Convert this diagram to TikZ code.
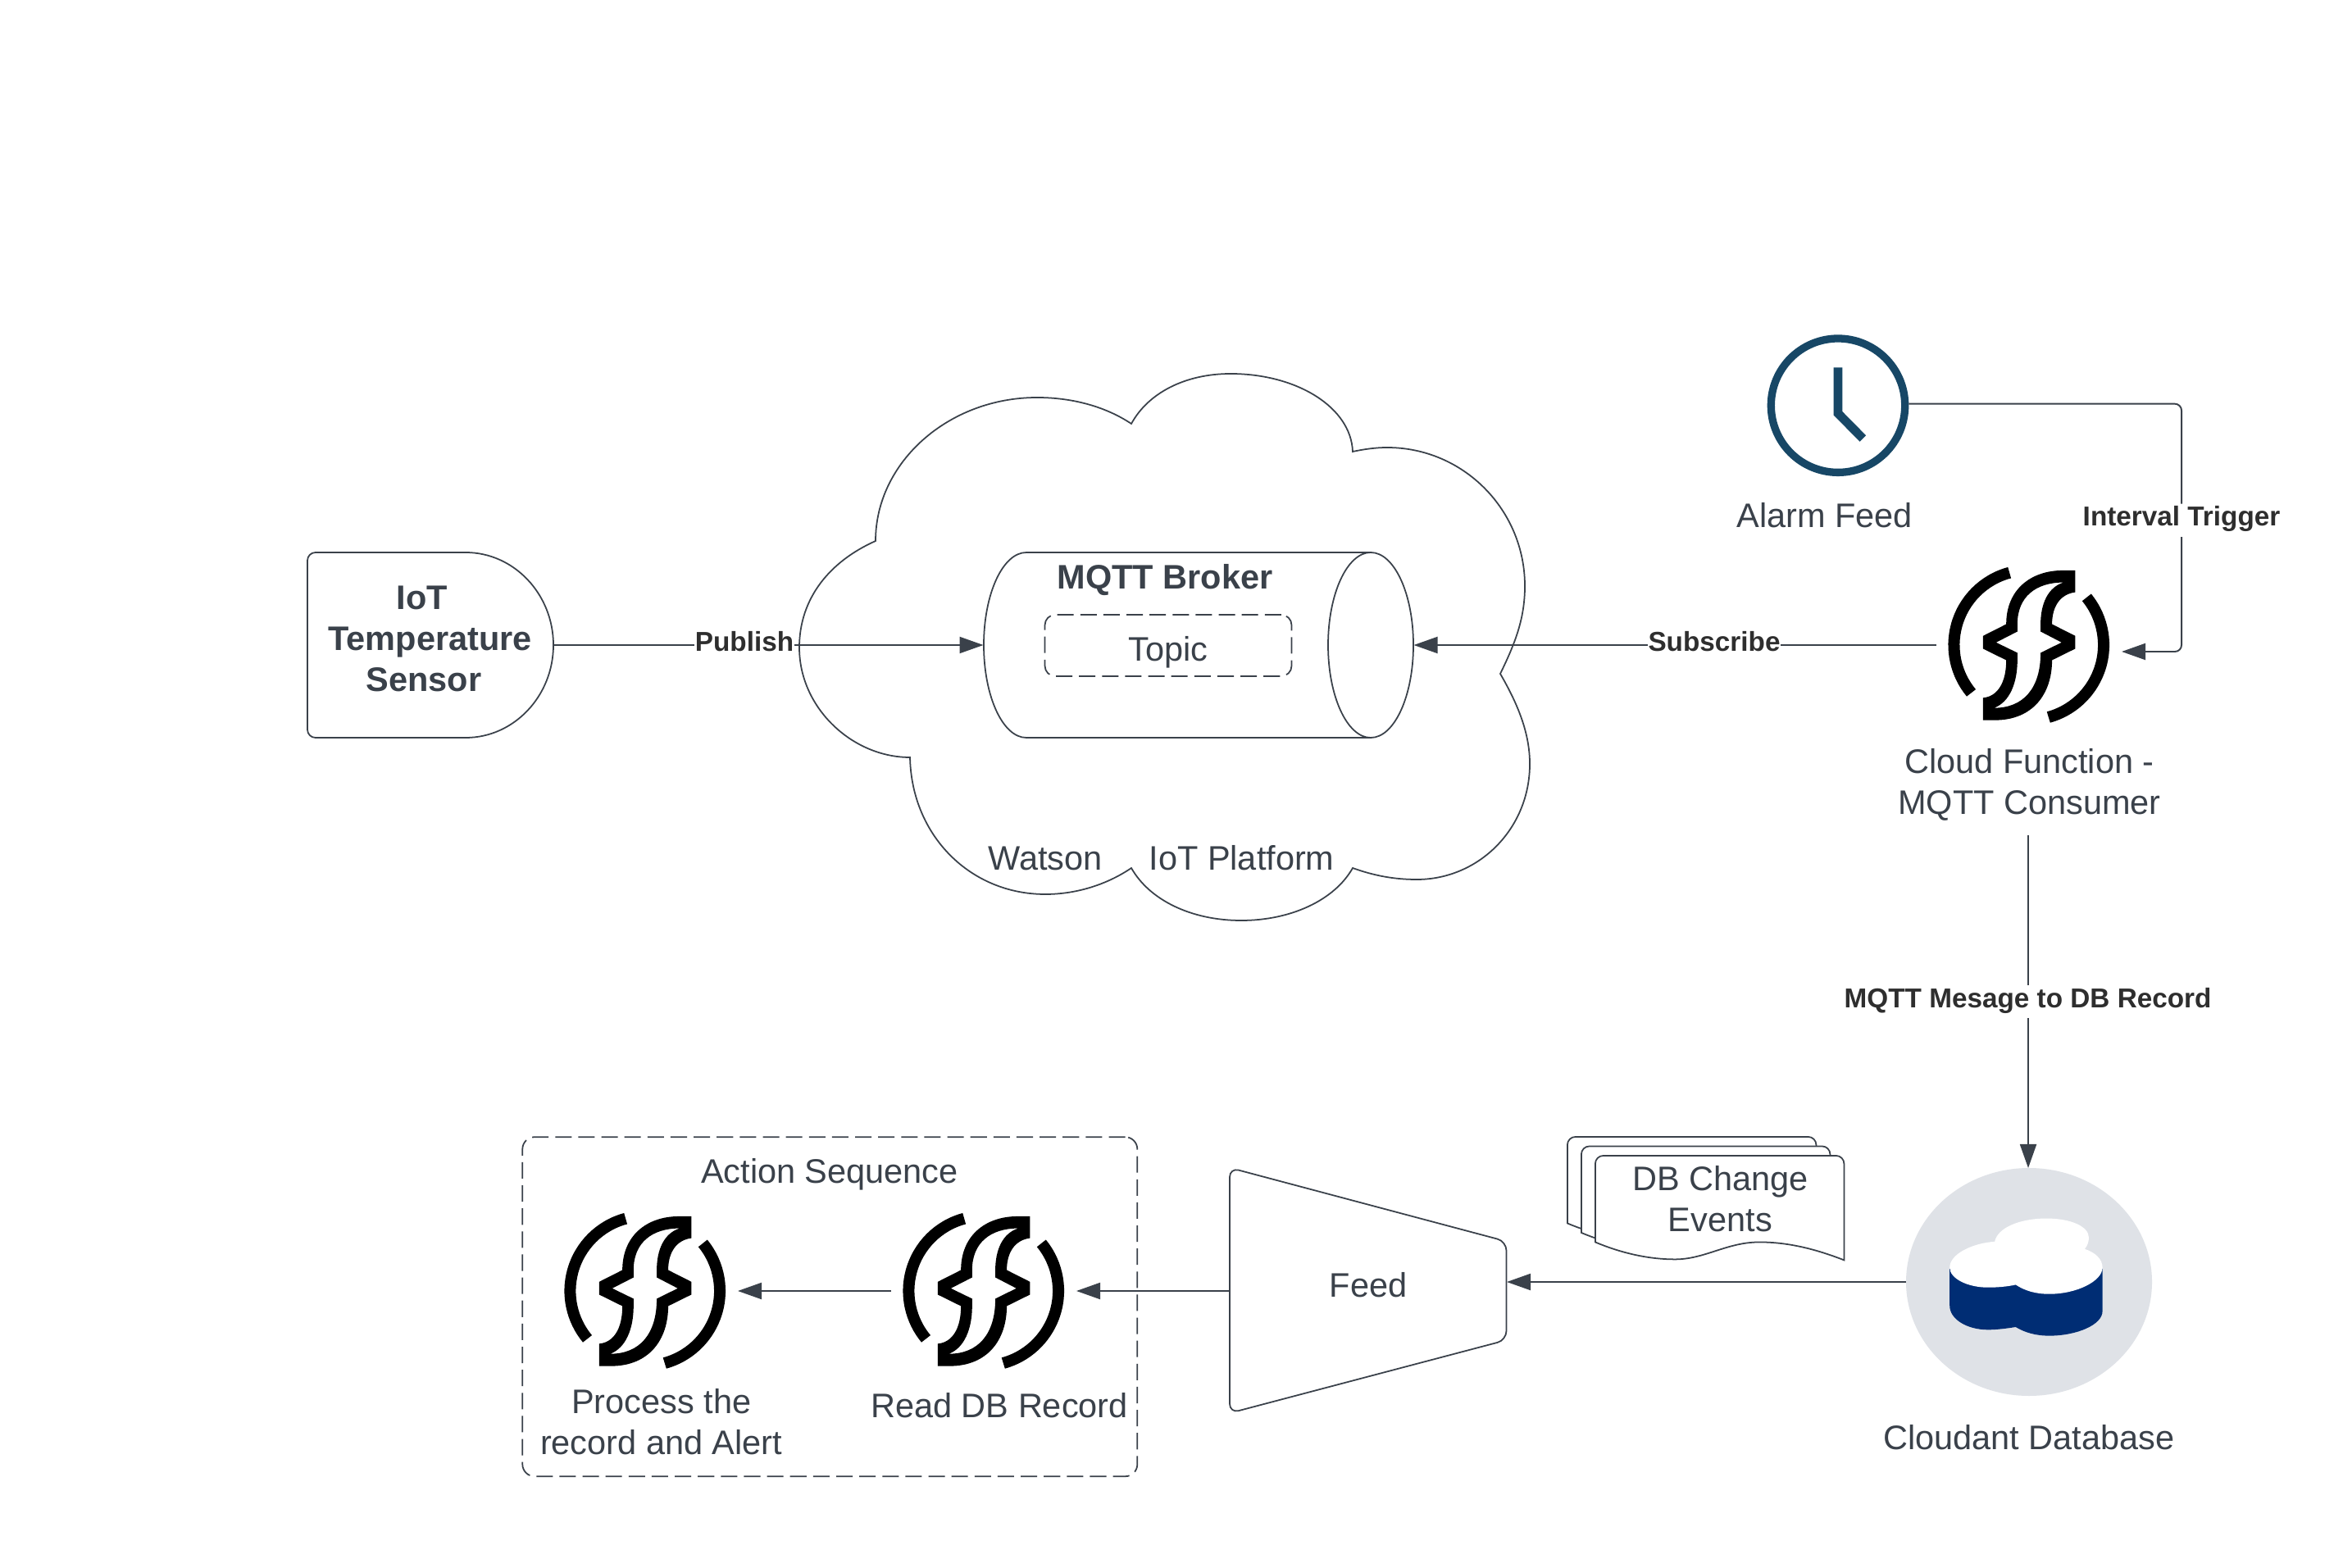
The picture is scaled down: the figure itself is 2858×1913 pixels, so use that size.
\documentclass[tikz,border=0pt]{standalone}
\usepackage{fontspec}
\setmainfont{Liberation Sans}
\usetikzlibrary{arrows.meta,calc,shapes.geometric}
\definecolor{ink}{HTML}{3A414A}
\definecolor{lblink}{HTML}{2E2E2E}
\definecolor{clockblue}{HTML}{174766}
\definecolor{dbgrey}{HTML}{DFE2E7}
\definecolor{dbnavy}{HTML}{002D74}
\newdimen\pxu \pxu=0.01cm
\tikzset{
  txt/.style={font=\fontsize{11.8}{14.22}\selectfont,text=ink,inner sep=0pt,align=center},
  boldtxt/.style={txt,font=\fontsize{11.8}{14.22}\selectfont\bfseries},
  edgelabel/.style={font=\fontsize{9.47}{11.5}\selectfont\bfseries,text=lblink,fill=white,inner xsep=0pt,inner ysep=0pt,text height=7.6pt,text depth=3.5pt,anchor=base},
  shapeline/.style={draw=ink,line width=0.5pt,fill=white},
  conn/.style={draw=ink,line width=0.55pt,-{Triangle[length=8.25pt,width=5.7pt]},fill=none},
  plainconn/.style={draw=ink,line width=0.55pt},
  dashbox/.style={draw=ink,line width=0.5pt,dash pattern=on 5.7pt off 2.3pt,rounded corners=3.6pt},
  anchorbox/.style={inner sep=0pt,outer sep=0pt},
}
\newcommand{\fnicon}[2]{%
  \begin{scope}[shift={(#1-135,#2-127)},x=0.0033333cm,y=-0.0033333cm]
    \draw[black,line width=14\pxu] (334,116.3) arc[start angle=105,end angle=219.7,radius=0.9133cm];
    \draw[black,line width=14\pxu] (616.8,207) arc[start angle=39.4,end angle=-74.7,radius=0.9133cm];
    \fill[black,even odd rule]
      (575,108) -- (575,188) .. controls (520,195) and (490,240) .. (490,305)
      -- (575,348) -- (575,395) -- (490,437)
      .. controls (490,560) and (420,657) .. (280,657) -- (237,657) -- (237,575)
      .. controls (290,570) and (322,520) .. (322,437)
      -- (237,395) -- (237,348) -- (322,305)
      .. controls (322,180) and (410,108) .. (530,108) -- (575,108) -- cycle
      (532,152) .. controls (475,170) and (448,230) .. (448,305)
      -- (448,332) -- (525,372) -- (448,410)
      .. controls (448,540) and (385,612) .. (278,612)
      .. controls (335,590) and (363,520) .. (363,437)
      -- (363,410) -- (285,372) -- (363,332) -- (363,305)
      .. controls (363,205) and (430,152) .. (532,152) -- cycle;
  \end{scope}}
\newcommand{\docsheet}[2]{%
  \begin{scope}[shift={(#1,#2)},x=0.0033333cm,y=-0.0033333cm]
    \path[draw=ink,line width=0.5pt,fill=white]
      (198,437) [rounded corners=2.8pt] -- (198,120) -- (1110,120) [sharp corners] -- (1110,503)
      .. controls (1000,460) and (900,437) .. (800,437)
      .. controls (680,437) and (600,500) .. (490,500)
      .. controls (400,500) and (300,480) .. (198,437) -- cycle;
  \end{scope}}
\begin{document}
\begin{tikzpicture}[x=0.01cm,y=-0.01cm]
\useasboundingbox (0,0) rectangle (2858,1913);
\fill[white] (0,0) rectangle (2858,1913);

% cloud
\path[shapeline]
  (1068,660) .. controls (1068,564) and (1157,485) .. (1265,485)
  .. controls (1310,485) and (1350,497) .. (1380,517)
  .. controls (1400,480) and (1445,456) .. (1501,456)
  .. controls (1582,456) and (1648,497) .. (1650,551)
  .. controls (1664,548) and (1678,546) .. (1692,546)
  .. controls (1785,546) and (1860,622) .. (1860,715)
  .. controls (1860,755) and (1848,785) .. (1830,822)
  .. controls (1852,860) and (1866,895) .. (1866,932)
  .. controls (1866,1011) and (1804,1073) .. (1728,1073)
  .. controls (1700,1073) and (1675,1068) .. (1650,1059)
  .. controls (1628,1098) and (1575,1123) .. (1514,1123)
  .. controls (1453,1123) and (1402,1098) .. (1380,1059)
  .. controls (1352,1078) and (1315,1091) .. (1275,1091)
  .. controls (1184,1091) and (1112,1020) .. (1110,924)
  .. controls (1040,924) and (975,864) .. (975,790)
  .. controls (975,730) and (1012,685) .. (1068,660) -- cycle;
\node[txt,anchor=base] (platform) at (1416.5,1061) {Watson\hspace{16.2pt}IoT Platform};

% broker
\node[anchorbox,minimum width=525\pxu,minimum height=226\pxu] (broker) at (1462,787) {};
\path[shapeline]
  (1672,674) -- (1252,674) .. controls (1223,674) and (1200,725) .. (1200,787)
  .. controls (1200,849) and (1223,900) .. (1252,900) -- (1672,900);
\draw[draw=ink,line width=0.5pt,fill=white] (1672,787) ellipse[x radius=52,y radius=113];
\node[boldtxt,anchor=base] (brokerlabel) at (1421,719) {MQTT Broker};
\node[dashbox,anchor=center,minimum width=301\pxu,minimum height=75\pxu,inner sep=0pt] (topicbox) at (1425,787.5) {};
\node[txt,anchor=base] (topic) at (1425,807) {Topic};

% sensor
\node[anchorbox,minimum width=300\pxu,minimum height=226\pxu] (sensor) at (525,787) {};
\path[draw=ink,line width=0.5pt,fill=white]
  (568,674) [rounded corners=2.8pt] -- (375,674) -- (375,900) [sharp corners] -- (568,900)
  .. controls (627,900) and (675,849) .. (675,787)
  .. controls (675,725) and (627,674) .. (568,674) -- cycle;
\node[boldtxt] (sensorlabel) at (524.6,779.5) {IoT\kern5.7pt\\Temperature\\Sensor\kern4.4pt};

% functions
\node[anchorbox,minimum width=226\pxu,minimum height=190\pxu] (fnmqtt) at (2475,787) {};
\fnicon{2475}{787}
\node[txt] (fnmqttlabel) at (2475.5,957) {Cloud Function -\\MQTT Consumer};
\coordinate (fnout) at (2474,1019);

\node[anchorbox,minimum width=226\pxu,minimum height=190\pxu] (fnread) at (1200,1575) {};
\fnicon{1200}{1575}
\node[txt,anchor=base] (fnreadlabel) at (1219,1729) {Read DB Record};

\node[anchorbox,minimum width=226\pxu,minimum height=190\pxu] (fnproc) at (787,1575) {};
\fnicon{787}{1575}
\node[txt] (fnproclabel) at (806.7,1735) {Process the\\record and Alert};

% clock
\node[circle,draw=clockblue,line width=9.3\pxu,minimum size=163.4\pxu,inner sep=0pt] (clock) at (2242,494.7) {};
\draw[clockblue,line width=10.7\pxu,line join=miter] (2242,448.3) -- (2242,504.3) -- (2272.3,535);
\node[txt,anchor=base] (clocklabel) at (2225.7,643.3) {Alarm Feed};

% database
\node[ellipse,fill=dbgrey,minimum width=300\pxu,minimum height=278\pxu,inner sep=0pt,outer sep=0pt] (db) at (2475,1564) {};
\begin{scope}[shift={(2300,1400)},x=0.0033333cm,y=-0.0033333cm]
  \fill[dbnavy] (235,445) -- (235,580) .. controls (235,630) and (300,668) .. (375,668)
    .. controls (410,668) and (445,663) .. (477,658)
    .. controls (510,678) and (550,690) .. (600,690)
    .. controls (700,690) and (795,650) .. (795,600) -- (795,445) -- cycle;
  \fill[white] (235,440) .. controls (235,390) and (320,350) .. (400,345)
    .. controls (410,295) and (490,260) .. (590,260)
    .. controls (680,260) and (745,290) .. (745,330)
    .. controls (745,345) and (740,360) .. (730,372)
    .. controls (770,385) and (795,410) .. (795,440)
    .. controls (795,490) and (700,537) .. (600,537)
    .. controls (550,537) and (510,525) .. (477,503)
    .. controls (445,510) and (410,513) .. (375,513)
    .. controls (300,513) and (235,480) .. (235,440) -- cycle;
\end{scope}
\node[txt,anchor=base] (dblabel) at (2475,1768.7) {Cloudant Database};

% feed
\node[anchorbox,txt,minimum width=338\pxu] (feed) at (1669,1568) {Feed};
\path[draw=ink,line width=0.5pt,rounded corners=3.2pt]
  (1500,1424.7) -- (1837.5,1514.5) -- (1837.5,1635) -- (1500,1724) -- cycle;

% change events
\docsheet{1846}{1347}
\docsheet{1863}{1358.5}
\docsheet{1880}{1370}
\node[txt] (events) at (2098.3,1463) {DB Change\\Events};

% action sequence
\node[dashbox,rounded corners=4.2pt,minimum width=750\pxu,minimum height=414\pxu,inner sep=0pt] (sequence) at (1012.3,1594.2) {};
\node[txt,anchor=base] (sequencelabel) at (1012,1443.3) {Action Sequence};

% connector labels and connectors
\node[edgelabel] (publish) at (908,795) {Publish};
\draw[plainconn] (sensor.east) -- (sensor.east -| publish.west);
\draw[conn] (broker.west -| publish.east) -- (broker.west);
\node[edgelabel] (subscribe) at (2091,795) {Subscribe};
\draw[plainconn] (fnmqtt.west) -- (fnmqtt.west -| subscribe.east);
\draw[conn] (broker.east -| subscribe.west) -- (broker.east);

\node[edgelabel] (interval) at (2661,642) {Interval Trigger};
\coordinate (fnin) at ($(fnmqtt.east)+(0,8)$);
\coordinate (clockout) at ($(clock.east)+(0,-2)$);
\draw[plainconn,rounded corners=2.3pt] (clockout) -- (clockout -| interval) -- (interval.north);
\draw[conn,rounded corners=2.3pt] (interval.south) -- (interval |- fnin) -- (fnin);

\node[edgelabel] (msgrecord) at (2473.6,1229) {MQTT Mesage to DB Record};
\draw[plainconn] (fnout) -- (fnout |- msgrecord.north);
\draw[conn] (fnout |- msgrecord.south) -- (fnout |- db.north);

\draw[conn] (db.west) -- (db.west -| feed.east);
\draw[conn] (feed.west |- fnread.east) -- (fnread.east);
\draw[conn] (fnread.west) -- (fnproc.east);
\end{tikzpicture}
\end{document}
